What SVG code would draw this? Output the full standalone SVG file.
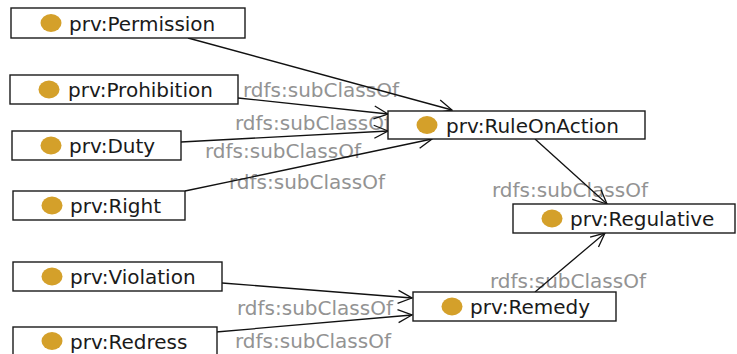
<svg xmlns="http://www.w3.org/2000/svg" width="737" height="354" viewBox="0 0 737 354">
  <style>
    .box { fill: #ffffff; stroke: #1a1a1a; stroke-width: 1.4; }
    .dot { fill: #d4a02a; }
    .name { font-family: "DejaVu Sans", sans-serif; font-size: 20px; fill: #1a1a1a; }
    .lbl { font-family: "DejaVu Sans", sans-serif; font-size: 20px; fill: #939393; }
    .edge { stroke: #111111; stroke-width: 1.3; fill: none; marker-end: url(#open); }
  </style>
  <defs>
    <marker id="open" markerUnits="userSpaceOnUse" markerWidth="16" markerHeight="16" refX="0" refY="0" viewBox="-15 -8 16 16" orient="auto">
      <path d="M -14 -6.5 L 0 0 L -14 6.5" fill="none" stroke="#111111" stroke-width="1.3"/>
    </marker>
  </defs>
  <rect width="737" height="354" fill="#ffffff"/>

  <!-- edge labels -->
  <g id="labels">
    <text class="lbl" x="243" y="97">rdfs:subClassOf</text>
    <text class="lbl" x="235" y="130">rdfs:subClassOf</text>
    <text class="lbl" x="205" y="158">rdfs:subClassOf</text>
    <text class="lbl" x="229" y="189">rdfs:subClassOf</text>
    <text class="lbl" x="492" y="197">rdfs:subClassOf</text>
    <text class="lbl" x="490" y="288">rdfs:subClassOf</text>
    <text class="lbl" x="237" y="315">rdfs:subClassOf</text>
    <text class="lbl" x="235" y="348">rdfs:subClassOf</text>
  </g>

  <!-- subclass connectors -->
  <g id="edges">
    <line class="edge" x1="188" y1="38" x2="452" y2="110"/>
    <line class="edge" x1="238" y1="98" x2="388" y2="114"/>
    <line class="edge" x1="181" y1="142" x2="388" y2="131"/>
    <line class="edge" x1="185" y1="191" x2="432" y2="139"/>
    <line class="edge" x1="222" y1="283" x2="412" y2="298"/>
    <line class="edge" x1="216" y1="332" x2="412" y2="315"/>
    <line class="edge" x1="535" y1="139" x2="607" y2="204"/>
    <line class="edge" x1="535" y1="292" x2="605" y2="233"/>
  </g>

  <!-- class nodes -->
  <g id="permission">
    <rect class="box" x="11" y="8" width="234" height="30"/>
    <ellipse class="dot" cx="51" cy="23" rx="10.5" ry="9"/>
    <text class="name" x="69" y="31">prv:Permission</text>
  </g>
  <g id="prohibition">
    <rect class="box" x="10" y="75" width="228" height="29"/>
    <ellipse class="dot" cx="49" cy="89.5" rx="10.5" ry="9"/>
    <text class="name" x="68" y="97">prv:Prohibition</text>
  </g>
  <g id="duty">
    <rect class="box" x="12" y="131" width="169" height="29"/>
    <ellipse class="dot" cx="51" cy="145.5" rx="10.5" ry="9"/>
    <text class="name" x="69" y="153">prv:Duty</text>
  </g>
  <g id="right">
    <rect class="box" x="13" y="191" width="172" height="29"/>
    <ellipse class="dot" cx="52" cy="205.5" rx="10.5" ry="9"/>
    <text class="name" x="70" y="213">prv:Right</text>
  </g>
  <g id="violation">
    <rect class="box" x="13" y="262" width="209" height="29"/>
    <ellipse class="dot" cx="52" cy="276.5" rx="10.5" ry="9"/>
    <text class="name" x="70" y="284">prv:Violation</text>
  </g>
  <g id="redress">
    <rect class="box" x="13" y="327" width="204" height="32"/>
    <ellipse class="dot" cx="52" cy="341" rx="10.5" ry="9"/>
    <text class="name" x="70" y="349">prv:Redress</text>
  </g>
  <g id="ruleonaction">
    <rect class="box" x="388" y="111" width="257" height="28"/>
    <ellipse class="dot" cx="427" cy="125" rx="10.5" ry="9"/>
    <text class="name" x="446" y="133">prv:RuleOnAction</text>
  </g>
  <g id="regulative">
    <rect class="box" x="513" y="204" width="222" height="29"/>
    <ellipse class="dot" cx="552" cy="218.5" rx="10.5" ry="9"/>
    <text class="name" x="570" y="226">prv:Regulative</text>
  </g>
  <g id="remedy">
    <rect class="box" x="413" y="292" width="203" height="29"/>
    <ellipse class="dot" cx="452" cy="306.5" rx="10.5" ry="9"/>
    <text class="name" x="470" y="314">prv:Remedy</text>
  </g>
</svg>
